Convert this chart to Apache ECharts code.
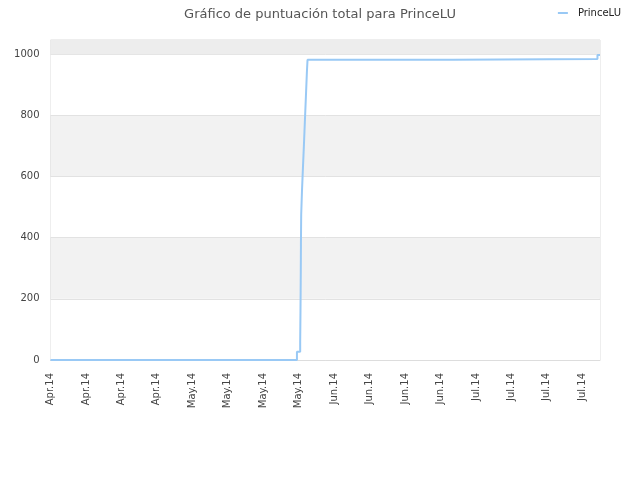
<!DOCTYPE html>
<html>
<head>
<meta charset="utf-8">
<script src="https://cdn.jsdelivr.net/npm/echarts@6/dist/echarts.min.js"></script>
<style>html,body{margin:0;padding:0;background:#fff}#c{width:640px;height:480px}</style>
</head>
<body>
<div id="c"></div>
<script>
// x in days from start; labels every 7 days
const tickLabels = ["Apr.14","Apr.14","Apr.14","Apr.14","May.14","May.14","May.14","May.14","Jun.14","Jun.14","Jun.14","Jun.14","Jul.14","Jul.14","Jul.14","Jul.14"];
const xDays = [0, 48.66, 49.3, 49.33, 49.36, 49.39, 49.42, 49.45, 49.5, 49.65, 49.84, 50.04, 50.24, 50.43, 50.63, 50.75, 79.5, 108.0, 108.5];
const scores = [0, 27, 60, 110, 160, 220, 290, 380, 475, 551, 627, 704, 786, 862, 944, 982, 985, 998, 998];
const seriesName = "PrinceLU";
const titleText = "Gráfico de puntuación total para PrinceLU";

const FONT = 'DejaVu Sans';
const chart = echarts.init(document.getElementById('c'));
chart.setOption({
  animation: false,
  textStyle: {fontFamily: FONT},
  title: {text: titleText, left: 'center', top: 3, textStyle: {fontSize: 13, fontWeight: 'normal', color: '#555', fontFamily: FONT}},
  legend: {right: 14, top: 3, itemWidth: 10, itemHeight: 2, icon: 'rect', textStyle: {fontSize: 10, color: '#222', fontFamily: FONT, padding: [0, 0, 0, 5]}, data: [seriesName]},
  grid: {left: 50.5, right: 40, top: 40, bottom: 120, show: true, borderColor: '#ddd', borderWidth: 1},
  xAxis: {
    type: 'value', min: 0, max: 108.5, interval: 7,
    axisLine: {show: true, lineStyle: {color: '#ddd'}},
    axisTick: {show: false},
    splitLine: {show: false},
    axisLabel: {rotate: 90, fontSize: 10, color: '#444', fontFamily: FONT, margin: 13, showMaxLabel: false,
      formatter: v => { const i = Math.round(v / 7); return (Math.abs(v - i*7) < 1e-6 && tickLabels[i]) ? tickLabels[i] : ''; }}
  },
  yAxis: {
    type: 'value', min: 0, max: 1047, interval: 200,
    axisLine: {show: false}, axisTick: {show: false},
    axisLabel: {fontSize: 10, color: '#444', fontFamily: FONT, showMaxLabel: false, margin: 11, formatter: v => String(v)},
    splitLine: {show: true, lineStyle: {color: '#e2e2e2'}},
    splitArea: {show: true, areaStyle: {color: ['#ffffff', '#f2f2f2']}}
  },
  series: [{
    name: seriesName, type: 'line', step: 'end', showSymbol: false,
    data: xDays.map((d, i) => [d, scores[i]]),
    lineStyle: {color: '#99c9f5', width: 2},
    itemStyle: {color: '#99c9f5'},
    markArea: {silent: true, itemStyle: {color: '#ededed'}, data: [[{yAxis: 1000}, {yAxis: 1047}]]}
  }]
});
</script>
</body>
</html>
